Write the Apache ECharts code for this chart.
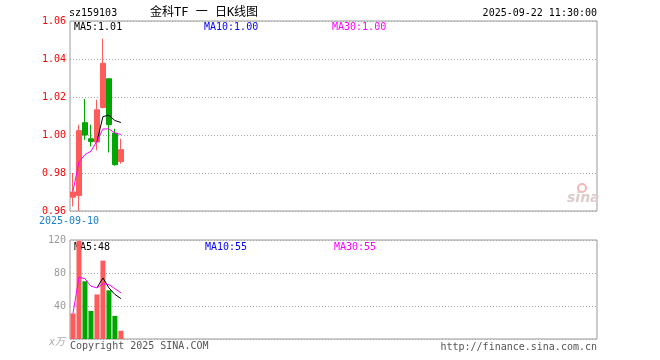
<!DOCTYPE html>
<html>
<head>
<meta charset="utf-8">
<script src="https://cdn.jsdelivr.net/npm/echarts@6/dist/echarts.min.js"></script>
<style>html,body{margin:0;padding:0;background:#fff;}#c{width:660px;height:360px;}</style>
</head>
<body>
<div id="c"></div>
<script>
// ---- data ----
const dates = ['2025-09-10','2025-09-11','2025-09-12','2025-09-15','2025-09-16','2025-09-17','2025-09-18','2025-09-19','2025-09-22'];
const opens  = [0.9673, 0.9682, 1.0065, 0.9980, 0.9963, 1.0145, 1.0296, 1.0010, 0.9860];
const closes = [0.9700, 1.0023, 1.0000, 0.9966, 1.0133, 1.0377, 1.0055, 0.9844, 0.9923];
const lows   = [0.9624, 0.9600, 0.9975, 0.9940, 0.9919, 1.0140, 0.9908, 0.9838, 0.9849];
const highs  = [0.9800, 1.0054, 1.0190, 1.0055, 1.0186, 1.0507, 1.0296, 1.0033, 0.9980];
const priceMA5  = [null, null, null, null, 0.9965, 1.0097, 1.0104, 1.0076, 1.0066];
const priceMA30 = [0.9705, 0.9858, 0.9897, 0.9915, 0.9968, 1.0032, 1.0032, 1.0010, 1.0003];
const volumes  = [31, 119, 70, 34, 54, 95, 59, 28, 10];
const volMA5   = [null, null, null, null, 62, 74, 62, 54, 49];
const volMA30  = [31, 75, 73, 64, 62, 67, 66, 61, 56];
const priceTicks = [0.96, 0.98, 1.00, 1.02, 1.04, 1.06];
const volTicks = [0, 40, 80, 120];
const headerTexts = ['sz159103', '2025-09-22 11:30:00'];
const priceMALabels = ['MA5:1.01', 'MA10:1.00', 'MA30:1.00'];
const volMALabels = ['MA5:48', 'MA10:55', 'MA30:55'];
const SLOTS = 88;

const RED = '#ff5b5b', GREEN = '#00a600';
const cats = dates.concat(new Array(SLOTS - dates.length).fill(''));
const kData = dates.map((d, i) => [opens[i], closes[i], lows[i], highs[i]]);
const volData = volumes.map((v, i) => ({value: v, itemStyle: {color: closes[i] >= opens[i] ? RED : GREEN}}));
const MONO = '"DejaVu Sans Mono","Liberation Mono",monospace';

const chart = echarts.init(document.getElementById('c'), null, {renderer: 'canvas'});
const txt = (x, top, text, color, font) => ({type: 'text', left: x, top: top, silent: true,
  style: {text: text, fill: color, font: font || ('10px ' + MONO)}});

chart.setOption({
  animation: false,
  grid: [
    {left: 70, right: 63, top: 21, height: 190, show: true, borderColor: '#999', borderWidth: 1, backgroundColor: 'transparent'},
    {left: 70, right: 63, top: 240, height: 99, show: true, borderColor: '#999', borderWidth: 1, backgroundColor: 'transparent'}
  ],
  xAxis: [
    {type: 'category', gridIndex: 0, data: cats, boundaryGap: true,
     axisLine: {show: false}, axisTick: {show: false}, splitLine: {show: false},
     axisLabel: {interval: 0, formatter: (v, i) => i === 0 ? v : '', color: '#1a80d0', fontFamily: MONO, fontSize: 10, margin: 5, padding: [0, 8, 0, 0]}},
    {type: 'category', gridIndex: 1, data: cats, boundaryGap: true,
     axisLine: {show: false}, axisTick: {show: false}, axisLabel: {show: false}, splitLine: {show: false}}
  ],
  yAxis: [
    {type: 'value', gridIndex: 0, min: priceTicks[0], max: priceTicks[priceTicks.length - 1], interval: 0.02,
     axisLine: {show: false}, axisTick: {show: false},
     axisLabel: {color: '#ff0000', fontFamily: MONO, fontSize: 10, margin: 4, formatter: v => v.toFixed(2)},
     splitLine: {show: true, lineStyle: {color: '#aaa', type: [1, 2], width: 1}}},
    {type: 'value', gridIndex: 1, min: volTicks[0], max: volTicks[volTicks.length - 1], interval: 40,
     axisLine: {show: false}, axisTick: {show: false},
     axisLabel: {color: '#999', fontFamily: MONO, fontSize: 10, margin: 4, formatter: v => v === 0 ? '' : String(v)},
     splitLine: {show: true, lineStyle: {color: '#aaa', type: [1, 2], width: 1}}}
  ],
  series: [
    {type: 'candlestick', xAxisIndex: 0, yAxisIndex: 0, data: kData, barWidth: 5,
     itemStyle: {color: RED, color0: GREEN, borderColor: RED, borderColor0: GREEN, borderWidth: 1}},
    {type: 'line', xAxisIndex: 0, yAxisIndex: 0, data: priceMA5, showSymbol: false, symbol: 'none',
     lineStyle: {color: '#000', width: 1}},
    {type: 'line', xAxisIndex: 0, yAxisIndex: 0, data: priceMA30, showSymbol: false, symbol: 'none',
     lineStyle: {color: '#ff00ff', width: 1}},
    {type: 'bar', xAxisIndex: 1, yAxisIndex: 1, data: volData, barWidth: 5},
    {type: 'line', xAxisIndex: 1, yAxisIndex: 1, data: volMA5, showSymbol: false, symbol: 'none',
     lineStyle: {color: '#000', width: 1}},
    {type: 'line', xAxisIndex: 1, yAxisIndex: 1, data: volMA30, showSymbol: false, symbol: 'none',
     lineStyle: {color: '#ff00ff', width: 1}}
  ],
  graphic: [
    txt(69, 8, headerTexts[0], '#000'),
    {type: 'text', left: 150, top: 7, silent: true,
     style: {text: '金科TF 一 日K线图', fill: '#000', font: '12px "DejaVu Sans Mono","Noto Sans CJK SC",sans-serif'}},
    {type: 'text', right: 63, top: 8, silent: true,
     style: {text: headerTexts[1], fill: '#000', font: '10px ' + MONO}},
    txt(74, 22, priceMALabels[0], '#000'),
    txt(204, 22, priceMALabels[1], '#0000ff'),
    txt(332, 22, priceMALabels[2], '#ff00ff'),
    txt(74, 242, volMALabels[0], '#000'),
    txt(205, 242, volMALabels[1], '#0000ff'),
    txt(334, 242, volMALabels[2], '#ff00ff'),
    txt(49, 337, 'x万', '#aaa', 'italic 10px "DejaVu Sans","Noto Sans CJK SC",sans-serif'),
    txt(70, 341, 'Copyright 2025 SINA.COM', '#555'),
    {type: 'text', right: 63, top: 342, silent: true,
     style: {text: 'http://finance.sina.com.cn', fill: '#555', font: '10px ' + MONO}},
    {type: 'circle', silent: true, shape: {cx: 582, cy: 188, r: 4}, style: {fill: 'none', stroke: '#f3b5b5', lineWidth: 2}},
    {type: 'text', left: 567, top: 191, silent: true,
     style: {text: 'sina', fill: '#dcc', font: 'italic bold 14px "DejaVu Sans",sans-serif'}}
  ]
});
</script>
</body>
</html>
